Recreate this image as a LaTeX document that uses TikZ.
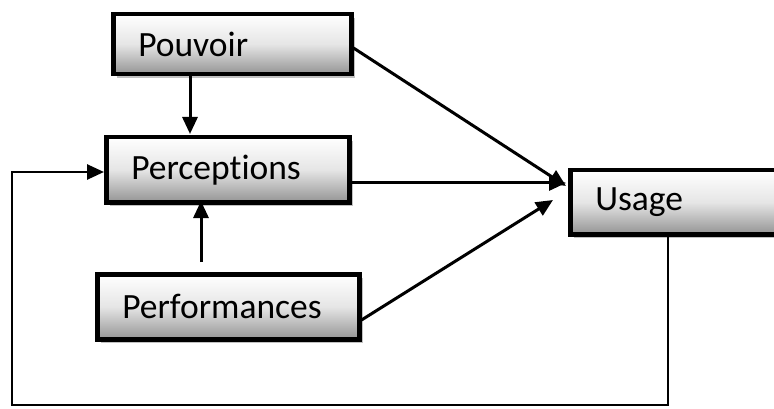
\documentclass[tikz,border=0pt]{standalone}
\usepackage{fontspec}
\setmainfont[Ligatures=CommonOff]{Carlito}
\usetikzlibrary{arrows.meta,shadows}
\begin{document}
\begin{tikzpicture}[x=1pt,y=-1pt,
  box/.style={draw=black, line width=4.5pt, rectangle, inner xsep=25pt, inner ysep=0pt,
    align=left, anchor=north west, font=\fontsize{35.5}{38}\selectfont,
    top color=white, bottom color=black!42, middle color=black!10,
    drop shadow={shadow xshift=4pt, shadow yshift=-4pt, fill=black!35, opacity=0.7}},
  link/.style={line width=3pt, -{Triangle[length=17pt,width=15pt]}},
  feedback/.style={line width=2.6pt, -{Triangle[length=17pt,width=15pt]}}]
  \useasboundingbox (0,0) rectangle (774,409);
  % the four boxes, placed by their top-left corners
  \node[box, text width=188pt, minimum height=60pt] (pouvoir) at (111,12) {Pouvoir};
  \node[box, text width=193pt, minimum height=65pt] (perceptions) at (104,135) {Perceptions};
  \node[box, text width=212pt, minimum height=65pt] (performances) at (95,272) {Performances};
  \node[box, text width=172pt, minimum height=64pt] (usage) at (568,168) {Usage};
  % arrow tips that stop short of the boxes
  \coordinate (tipA) at (566,186);
  \coordinate (tipB) at (553,200);
  \coordinate (loopR) at (668,405);
  \coordinate (loopL) at (12,405);
  \coordinate (loopT) at (12,172);
  % influences on perceptions
  \draw[link] (190,76) -- (190,134);
  \draw[link] (201,262) -- (201,201);
  % influences on usage
  \draw[link] (pouvoir.east |- 0,48) -- (tipA);
  \draw[link] (perceptions.east |- 0,183) -- (566,183);
  \draw[link] (performances.east |- 0,320) -- (tipB);
  % feedback loop from usage back to perceptions
  \draw[feedback] (usage.south -| loopR) -- (loopR) -- (loopL) -- (loopT) -- (perceptions.west |- loopT);
\end{tikzpicture}
\end{document}
